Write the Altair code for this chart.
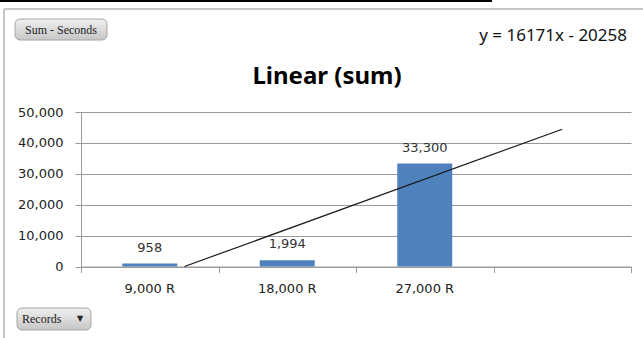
import altair as alt
import pandas as pd
import numpy as np

# ---- data ----
categories = ["9,000 R", "18,000 R", "27,000 R"]
sums = [958, 1994, 33300]
forecast_slot = [""]                      # empty 4th category created by the trendline forecast
y_ticks = [0, 10000, 20000, 30000, 40000, 50000]
y_max = 50000
title_text = "Linear (sum)"
field_button = "Sum - Seconds"
axis_button = "Records"

# ---- linear trendline (least squares over category index 1..n) ----
xs = np.arange(1, len(sums) + 1)
slope, intercept = np.polyfit(xs, sums, 1)
equation = f"y = {round(slope)}x - {abs(round(intercept))}"
x_start = -intercept / slope             # trend clipped where it crosses the 0 baseline
x_end = len(sums) + len(forecast_slot)
trend_df = pd.DataFrame({"xi": [x_start, x_end],
                         "v": [slope * x_start + intercept, slope * x_end + intercept]})

bars_df = pd.DataFrame({"cat": categories, "v": sums})
domain = categories + forecast_slot
n_slots = len(domain)

FONT = "DejaVu Sans"
GRID = "#9a9a9a"

yenc = alt.Y("v:Q",
             scale=alt.Scale(domain=[0, y_max], nice=False),
             axis=alt.Axis(title=None, values=y_ticks,
                           labelExpr="format(datum.value, ',')", grid=True,
                           gridColor=GRID, domainColor=GRID, tickColor=GRID,
                           tickSize=6, labelPadding=12, labelFont=FONT,
                           labelFontSize=13, labelColor="#222"))

xband = alt.X("cat:N", sort=None,
              scale=alt.Scale(domain=domain, paddingInner=0.6, paddingOuter=0.3),
              axis=alt.Axis(title=None, labelAngle=0, ticks=False, tickSize=0,
                            grid=False, domainColor=GRID, labelFont=FONT,
                            labelFontSize=13, labelColor="#222", labelPadding=16,
                            orient="bottom"))

bars = alt.Chart(bars_df).mark_bar(color="#4F81BD").encode(x=xband, y=yenc)
bar_labels = alt.Chart(bars_df).mark_text(
    font=FONT, fontSize=13, color="#333", baseline="alphabetic", dy=-12
).encode(x=xband, y=yenc, text=alt.Text("v:Q", format=","))

cat_layer = alt.layer(bars, bar_labels)

trend = alt.Chart(trend_df).mark_line(color="#1a1a1a", strokeWidth=1.2).encode(
    x=alt.X("xi:Q",
            scale=alt.Scale(domain=[0.5, n_slots + 0.5], nice=False, zero=False),
            axis=alt.Axis(title=None, values=[i + 0.5 for i in range(n_slots + 1)],
                          labels=False, domain=False, grid=False, ticks=True,
                          tickSize=6, tickColor=GRID, orient="bottom")),
    y=yenc,
)

one = pd.DataFrame({"k": [0]})

# chart area frame (left and top edges) and sheet line above
frame_top = alt.Chart(one).mark_rule(color="#b5b5b5", strokeWidth=1.5).encode(
    x=alt.value(-77), x2=alt.value(562), y=alt.value(-103))
frame_left = alt.Chart(one).mark_rule(color="#b5b5b5", strokeWidth=1.5).encode(
    x=alt.value(-77), y=alt.value(-103), y2=alt.value(226))
sheet_line = alt.Chart(one).mark_rule(color="#000", strokeWidth=2).encode(
    x=alt.value(-81), x2=alt.value(411), y=alt.value(-111))

grad = alt.Gradient(gradient="linear",
                    stops=[alt.GradientStop(color="#f0f0f0", offset=0),
                           alt.GradientStop(color="#c6c6c6", offset=1)],
                    x1=0, x2=0, y1=0, y2=1)

btn1 = alt.Chart(one).mark_rect(fill=grad, stroke="#a6a6a6", cornerRadius=5).encode(
    x=alt.value(-66), x2=alt.value(26), y=alt.value(-93), y2=alt.value(-72))
btn1_t = alt.Chart(one).mark_text(text=field_button, font="Liberation Serif",
                                  fontSize=12, color="#222", baseline="middle").encode(
    x=alt.value(-20), y=alt.value(-82))
btn2 = alt.Chart(one).mark_rect(fill=grad, stroke="#a6a6a6", cornerRadius=5).encode(
    x=alt.value(-64), x2=alt.value(10), y=alt.value(196), y2=alt.value(218))
btn2_t = alt.Chart(one).mark_text(text=axis_button, font="Liberation Serif",
                                  fontSize=12, color="#222", baseline="middle",
                                  align="left").encode(
    x=alt.value(-59), y=alt.value(207))
btn2_arrow = alt.Chart(one).mark_text(text="▼", font=FONT, fontSize=8, color="#222",
                                      baseline="middle").encode(
    x=alt.value(-1), y=alt.value(207))

title = alt.Chart(one).mark_text(text=title_text, font="Noto Sans", fontSize=24,
                                 fontWeight="bold", color="#000",
                                 baseline="alphabetic").encode(
    x=alt.value(246), y=alt.value(-28))
eq = alt.Chart(one).mark_text(text=equation, font="Noto Sans", fontSize=17,
                              color="#111", baseline="alphabetic", align="right").encode(
    x=alt.value(546), y=alt.value(-71))

chart = alt.layer(
    cat_layer, trend,
    frame_top, frame_left, sheet_line, btn1, btn1_t, btn2, btn2_t, btn2_arrow, title, eq
).resolve_scale(x="independent").properties(
    width=550, height=154.5,
    padding={"left": 81, "top": 112, "right": 12, "bottom": 71.5},
    autosize=alt.AutoSizeParams(type="none"),
    background="white",
).configure_view(strokeWidth=0)

chart.save("out.html", embed_options={"renderer": "svg", "actions": False})
